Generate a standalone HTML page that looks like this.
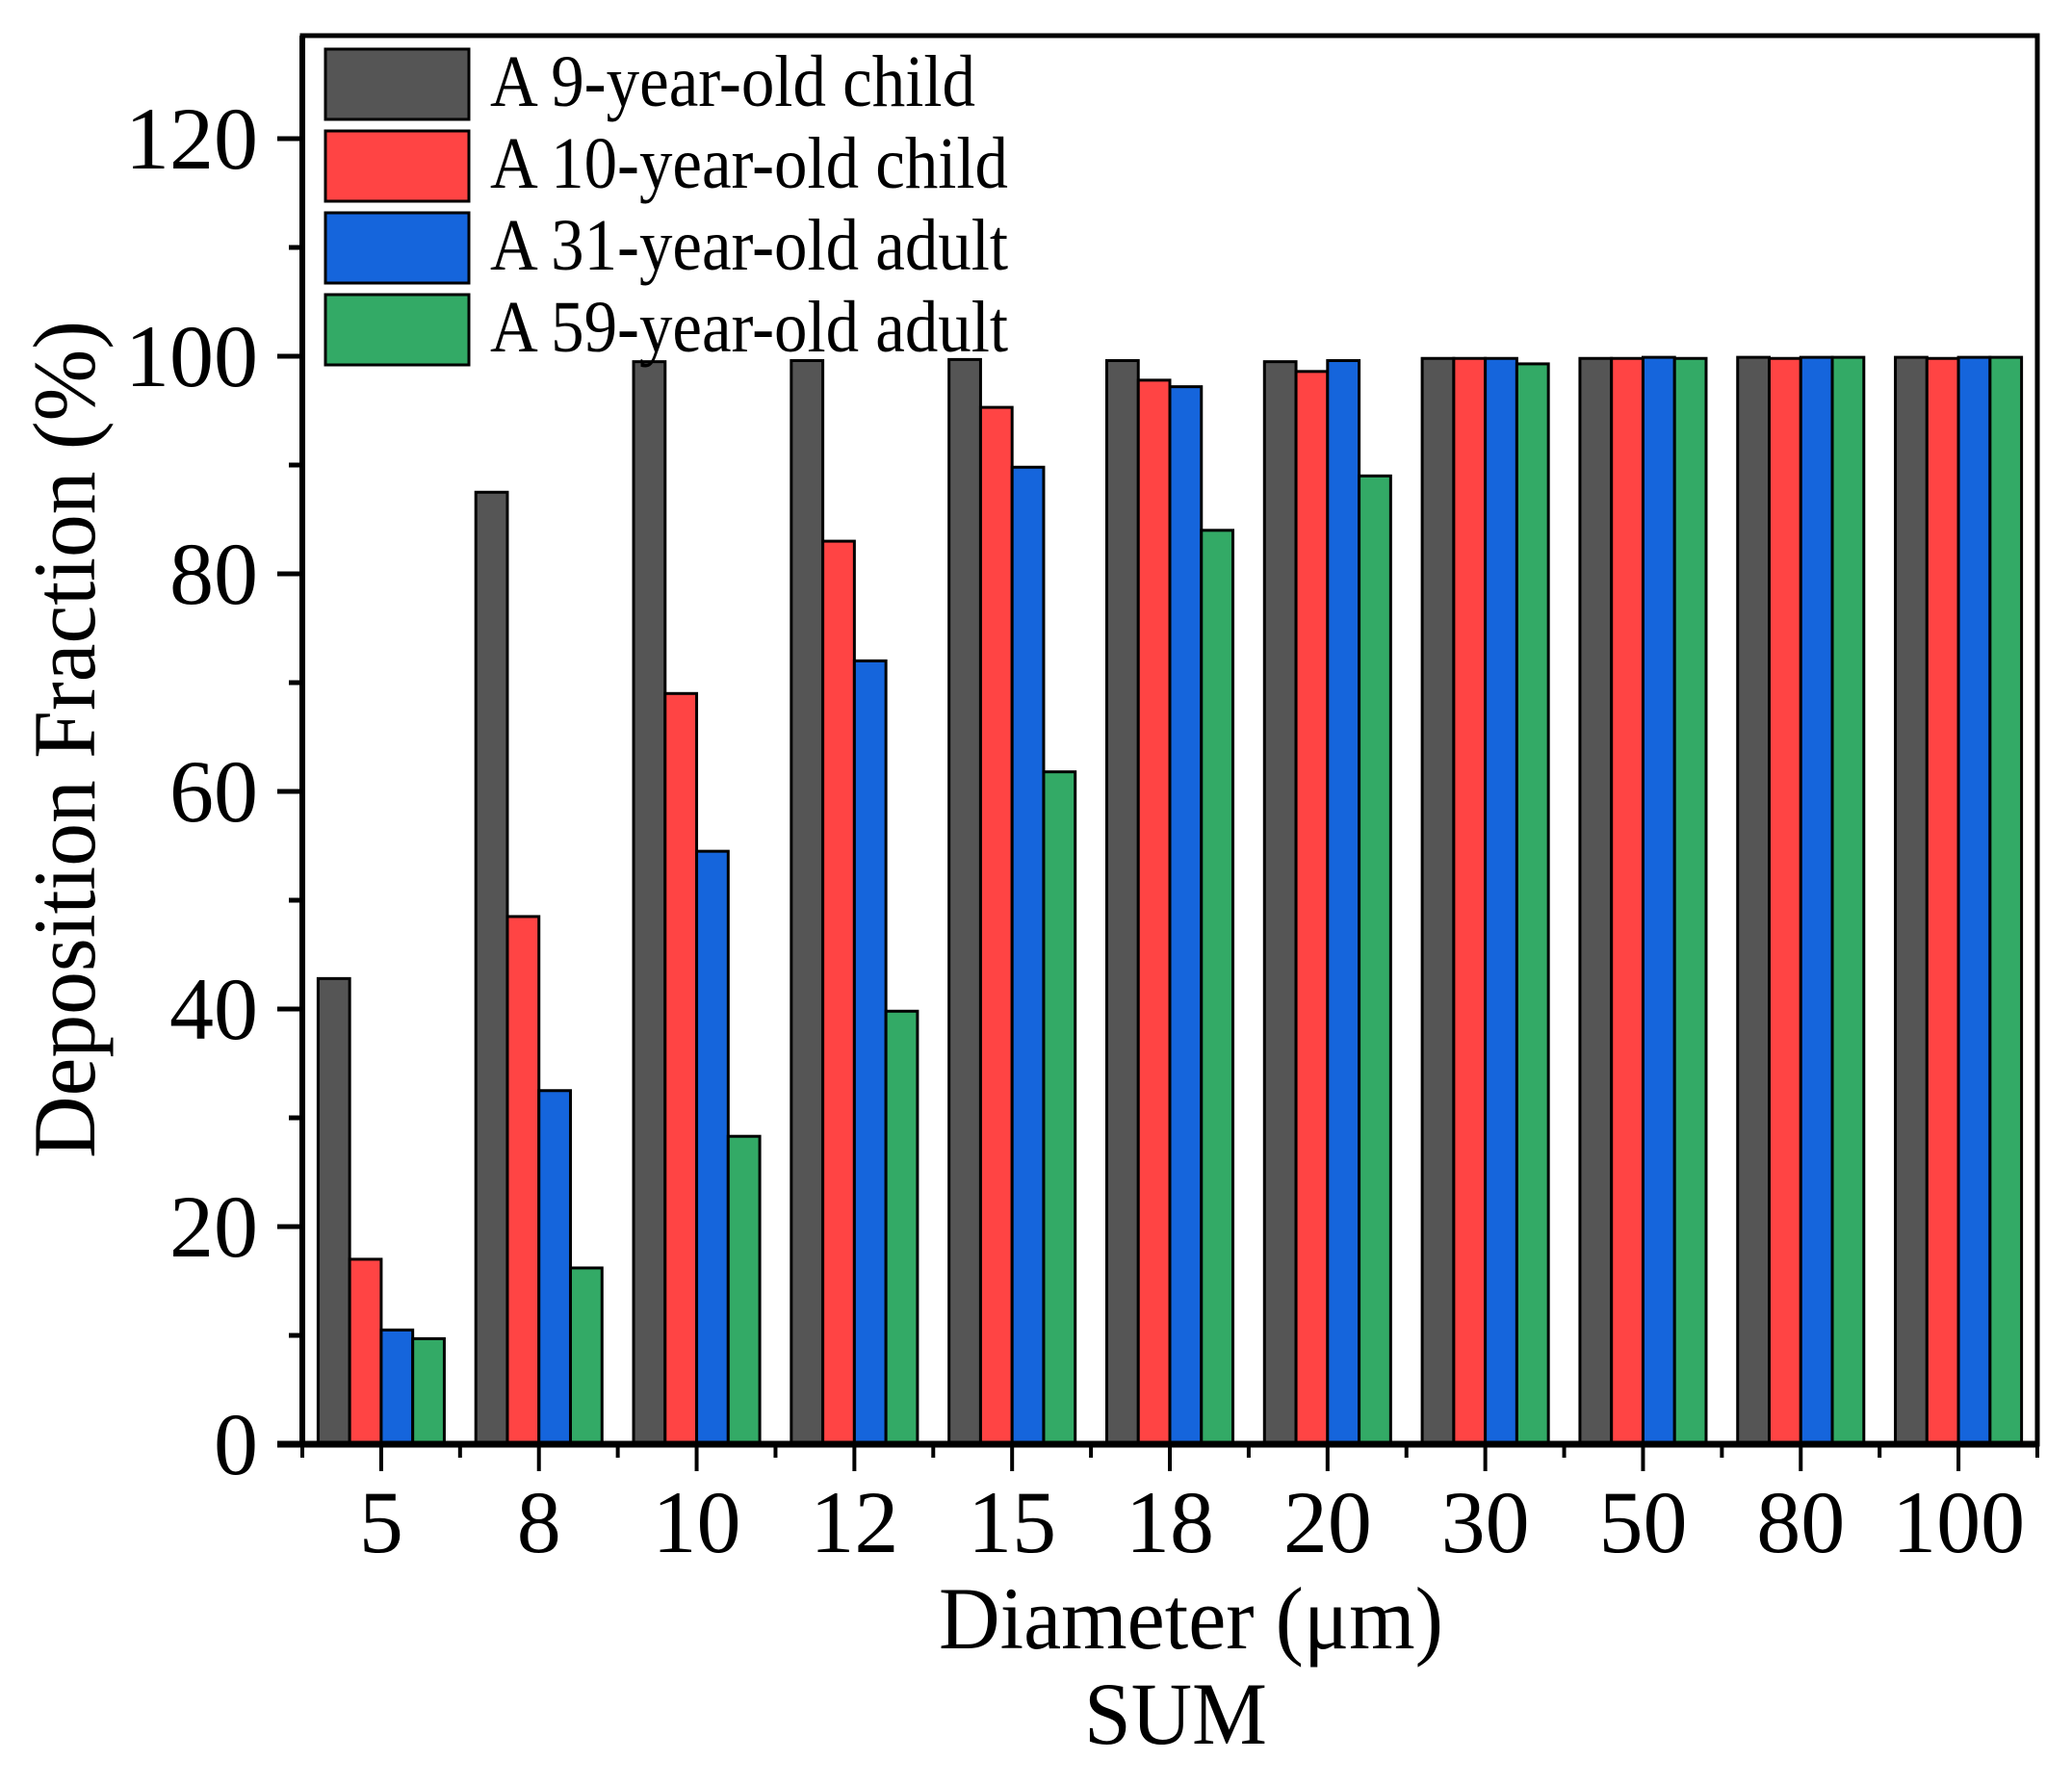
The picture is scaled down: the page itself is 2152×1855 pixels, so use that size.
<!DOCTYPE html>
<html><head><meta charset="utf-8"><style>
html,body{margin:0;padding:0;background:#fff;}
svg{display:block;font-family:"Liberation Serif",serif;}
</style></head><body>
<svg id="chart" width="2152" height="1855" viewBox="0 0 2152 1855" xmlns="http://www.w3.org/2000/svg">
<g id="bars"></g>
<g id="axes"></g>
<g id="legend"></g>
<text transform="translate(98,768) rotate(-90)" text-anchor="middle" font-size="92" textLength="870" lengthAdjust="spacingAndGlyphs">Deposition Fraction (%)</text>
<text x="1237" y="1712" text-anchor="middle" font-size="92" textLength="524" lengthAdjust="spacingAndGlyphs">Diameter (μm)</text>
<text x="1221" y="1811" text-anchor="middle" font-size="92" textLength="190" lengthAdjust="spacingAndGlyphs">SUM</text>
</svg>
<script>
const categories = ["5","8","10","12","15","18","20","30","50","80","100"];
const seriesNames = ["A 9-year-old child","A 10-year-old child","A 31-year-old adult","A 59-year-old adult"];
const child9 = [42.8,87.5,99.5,99.6,99.7,99.6,99.5,99.8,99.8,99.9,99.9];
const child10 = [17,48.5,69,83,95.3,97.8,98.6,99.8,99.8,99.8,99.8];
const adult31 = [10.5,32.5,54.5,72,89.8,97.2,99.6,99.8,99.9,99.9,99.9];
const adult59 = [9.7,16.2,28.3,39.8,61.8,84,89,99.3,99.8,99.9,99.9];
const yTicks = [0,20,40,60,80,100,120];
const yMinor = [10,30,50,70,90,110];

const NS="http://www.w3.org/2000/svg";
const L=314,R=2116,T=37,B=1500;
const colors=["#555555","#ff4444","#1565dc","#33aa66"];
const series=[child9,child10,adult31,adult59];
const legendLens=[504,538,538,538];
const band=(R-L)/categories.length;
const barW=band*0.8/4;
function yPos(v){return B-(v/120)*(B-144);}
function xCenter(i){return L+band*(i+0.5);}
function mk(tag,attrs,parent){const e=document.createElementNS(NS,tag);for(const k in attrs)e.setAttribute(k,attrs[k]);parent.appendChild(e);return e;}
const gb=document.getElementById('bars'),ga=document.getElementById('axes'),gl=document.getElementById('legend');
series.forEach((s,si)=>{s.forEach((v,i)=>{
  const x=xCenter(i)-band*0.4+si*barW;
  const r=mk('rect',{x:x,y:yPos(v),width:barW,height:B-yPos(v),fill:colors[si],stroke:"#000","stroke-width":3},gb);
  
  
});});
const fr=mk('rect',{x:L,y:T,width:R-L,height:B-T,fill:"none",stroke:"#000","stroke-width":5},ga);


const xa=mk('line',{x1:L-26,x2:R+2,y1:B,y2:B,stroke:"#000","stroke-width":7},ga);


const ya=mk('line',{x1:L,x2:L,y1:T,y2:B,stroke:"#000","stroke-width":6},ga);


yTicks.forEach(v=>{
  const y=yPos(v);
  const tk=mk('line',{x1:L-26,x2:L,y1:y,y2:y,stroke:"#000","stroke-width":5},ga);
  
  
  const t=mk('text',{x:268,y:y+31,"text-anchor":"end","font-size":92},ga);
  t.textContent=v;
  
  
});
yMinor.forEach(v=>{
  const y=yPos(v);
  const tk=mk('line',{x1:L-14,x2:L,y1:y,y2:y,stroke:"#000","stroke-width":5},ga);
  
  
});
categories.forEach((c,i)=>{
  const x=xCenter(i);
  const tk=mk('line',{x1:x,x2:x,y1:B,y2:B+28,stroke:"#000","stroke-width":4},ga);
  
  
  const t=mk('text',{x:x,y:1612,"text-anchor":"middle","font-size":92},ga);
  t.textContent=c;
  
  
});
for(let i=0;i<=categories.length;i++){
  const x=L+band*i;
  const tk=mk('line',{x1:x,x2:x,y1:B,y2:B+14,stroke:"#000","stroke-width":4},ga);
  
  
}
seriesNames.forEach((n,i)=>{
  const y=51+i*85;
  const sw=mk('rect',{x:338,y:y,width:149,height:73,fill:colors[i],stroke:"#000","stroke-width":3},gl);
  
  
  const t=mk('text',{x:509,y:y+59,"font-size":76,textLength:legendLens[i],lengthAdjust:"spacingAndGlyphs"},gl);
  t.textContent=n;
  
  
});
</script>
</body></html>
